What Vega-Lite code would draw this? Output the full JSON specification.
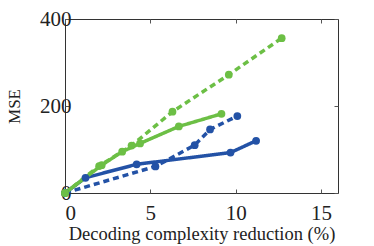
{
  "$schema": "https://vega.github.io/schema/vega-lite/v6.json",
  "width": 273,
  "height": 174,
  "autosize": "none",
  "padding": {"left": 65, "top": 19, "right": 36, "bottom": 53},
  "background": "white",
  "config": {
    "view": {"stroke": "#333333", "strokeWidth": 1},
    "font": "Liberation Serif",
    "axis": {
      "grid": false,
      "domain": false,
      "tickColor": "#555555",
      "tickSize": -4,
      "labelFont": "Liberation Serif",
      "titleFont": "Liberation Serif",
      "labelColor": "#222222",
      "titleColor": "#222222",
      "titleFontWeight": "normal"
    }
  },
  "data": {
    "values": [
      {"line": "a_blue_solid", "grp": "blue", "style": "solid", "x": 0, "y": 0},
      {"line": "a_blue_solid", "grp": "blue", "style": "solid", "x": 1.2, "y": 35},
      {"line": "a_blue_solid", "grp": "blue", "style": "solid", "x": 4.2, "y": 66},
      {"line": "a_blue_solid", "grp": "blue", "style": "solid", "x": 9.7, "y": 93},
      {"line": "a_blue_solid", "grp": "blue", "style": "solid", "x": 11.2, "y": 120},
      {"line": "b_blue_dashed", "grp": "blue", "style": "dashed", "x": 0, "y": 0},
      {"line": "b_blue_dashed", "grp": "blue", "style": "dashed", "x": 5.3, "y": 61},
      {"line": "b_blue_dashed", "grp": "blue", "style": "dashed", "x": 7.6, "y": 110},
      {"line": "b_blue_dashed", "grp": "blue", "style": "dashed", "x": 8.5, "y": 146},
      {"line": "b_blue_dashed", "grp": "blue", "style": "dashed", "x": 10.1, "y": 177},
      {"line": "c_green_dashed", "grp": "green", "style": "dashed", "x": 0, "y": 0},
      {"line": "c_green_dashed", "grp": "green", "style": "dashed", "x": 2.0, "y": 62},
      {"line": "c_green_dashed", "grp": "green", "style": "dashed", "x": 3.9, "y": 109},
      {"line": "c_green_dashed", "grp": "green", "style": "dashed", "x": 6.3, "y": 187},
      {"line": "c_green_dashed", "grp": "green", "style": "dashed", "x": 9.6, "y": 272},
      {"line": "c_green_dashed", "grp": "green", "style": "dashed", "x": 12.7, "y": 356},
      {"line": "d_green_solid", "grp": "green", "style": "solid", "x": 0, "y": 0},
      {"line": "d_green_solid", "grp": "green", "style": "solid", "x": 2.15, "y": 64},
      {"line": "d_green_solid", "grp": "green", "style": "solid", "x": 3.35, "y": 95},
      {"line": "d_green_solid", "grp": "green", "style": "solid", "x": 4.4, "y": 114},
      {"line": "d_green_solid", "grp": "green", "style": "solid", "x": 6.67, "y": 153},
      {"line": "d_green_solid", "grp": "green", "style": "solid", "x": 9.17, "y": 182}
    ]
  },
  "resolve": {"axis": {"x": "independent", "y": "independent"}},
  "layer": [
    {
      "mark": {"type": "line", "strokeWidth": 3.5, "strokeCap": "butt"},
      "encoding": {
        "x": {
          "field": "x", "type": "quantitative",
          "scale": {"domain": [0, 16], "nice": false, "zero": true},
          "axis": {"values": [0, 5, 10, 15], "title": "Decoding complexity reduction (%)", "labelFont": "Liberation Serif", "titleFont": "Liberation Serif", "labelFontSize": 21, "titleFontSize": 18.5, "labelPadding": 13, "titlePadding": 1}
        },
        "y": {
          "field": "y", "type": "quantitative",
          "scale": {"domain": [0, 400], "nice": false},
          "axis": {"values": [0, 200, 400], "title": "MSE", "labelFont": "Liberation Serif", "titleFont": "Liberation Serif", "labelFontSize": 21, "titleFontSize": 17, "labelPadding": -2, "titlePadding": 16}
        },
        "color": {
          "field": "grp", "type": "nominal",
          "scale": {"domain": ["blue", "green"], "range": ["#2352a6", "#6cbf45"]},
          "legend": null
        },
        "detail": {"field": "line", "type": "nominal"},
        "strokeDash": {
          "field": "style", "type": "nominal",
          "scale": {"domain": ["solid", "dashed"], "range": [[1, 0], [6, 4]]},
          "legend": null
        }
      }
    },
    {
      "mark": {"type": "point", "filled": true, "size": 60, "opacity": 1},
      "encoding": {
        "x": {
          "field": "x", "type": "quantitative",
          "axis": {"orient": "top", "values": [0, 5, 10, 15], "labels": false, "title": null}
        },
        "y": {
          "field": "y", "type": "quantitative",
          "axis": {"orient": "right", "values": [0, 200, 400], "labels": false, "title": null}
        },
        "color": {"field": "grp", "type": "nominal", "legend": null},
        "detail": {"field": "line", "type": "nominal"}
      }
    }
  ]
}
